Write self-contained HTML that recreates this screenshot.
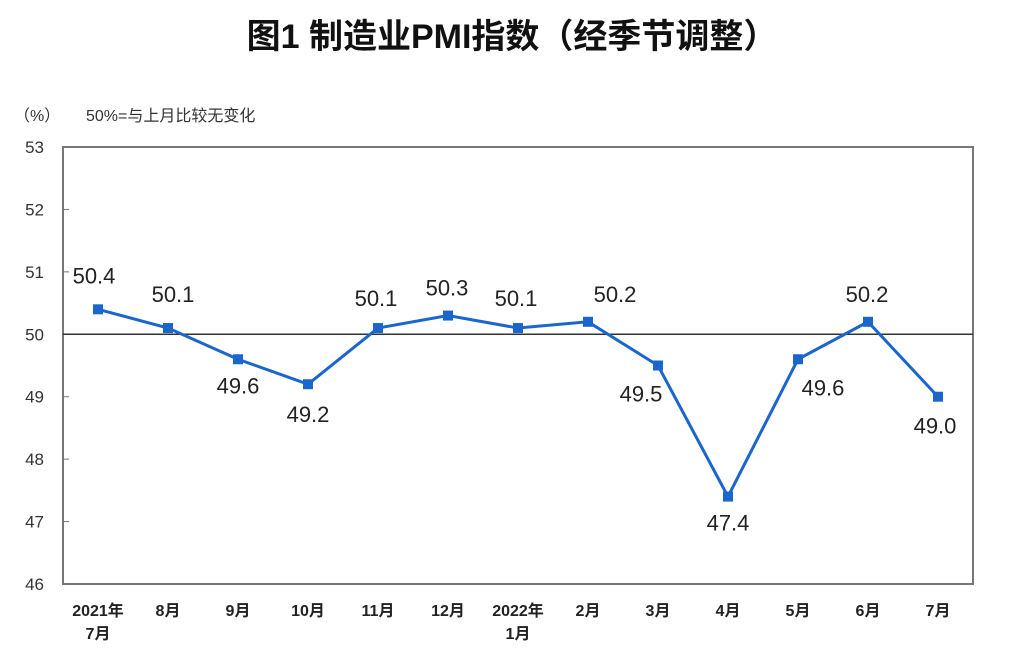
<!DOCTYPE html>
<html><head><meta charset="utf-8"><style>
body{margin:0;background:#fff;width:1024px;height:670px;overflow:hidden}
svg{display:block;font-family:"Liberation Sans","Noto Sans CJK SC",sans-serif}
</style></head><body>
<svg width="1024" height="670">
<text x="512" y="48" text-anchor="middle" font-size="34" font-weight="bold" fill="#111">图1 制造业PMI指数（经季节调整）</text>
<text x="14" y="121" font-size="16" fill="#333">（%）</text>
<text x="86" y="121" font-size="16" fill="#333">50%=与上月比较无变化</text>
<rect x="63" y="147" width="910" height="437" fill="none" stroke="#777" stroke-width="2"/>
<g id="yt"></g><g id="xt"></g><g id="ln"></g>
</svg>
<script>
const categories=[["2021年","7月"],["8月"],["9月"],["10月"],["11月"],["12月"],["2022年","1月"],["2月"],["3月"],["4月"],["5月"],["6月"],["7月"]];
const values=[50.4,50.1,49.6,49.2,50.1,50.3,50.1,50.2,49.5,47.4,49.6,50.2,49.0];
const valueLabels=["50.4","50.1","49.6","49.2","50.1","50.3","50.1","50.2","49.5","47.4","49.6","50.2","49.0"];
const yTicks=[46,47,48,49,50,51,52,53];
const labelOffsets=[[-4,-26],[5,-26],[0,34],[0,38],[-2,-22],[-1,-20],[-2,-22],[27,-20],[-17,36],[0,34],[25,36],[-1,-20],[-3,37]];
const NS="http://www.w3.org/2000/svg";
const x0=63,pw=910,plotTop=147,plotBot=584,ymin=46,ymax=53;
const xs=i=>x0+pw/categories.length*(i+0.5);
const ys=v=>plotBot-(v-ymin)/(ymax-ymin)*(plotBot-plotTop);
function mk(t,a,p){const e=document.createElementNS(NS,t);for(const k in a)e.setAttribute(k,a[k]);p.appendChild(e);return e;}
const yt=document.getElementById('yt'),xt=document.getElementById('xt'),ln=document.getElementById('ln');
yTicks.forEach(v=>{const t=mk('text',{x:44,y:ys(v)+6,'text-anchor':'end','font-size':17,fill:'#333'},yt);t.textContent=v;


const k=mk('line',{x1:x0,x2:x0+6,y1:ys(v),y2:ys(v),stroke:'#777'},yt);

});
const ref=mk('line',{x1:x0,x2:x0+pw,y1:ys(50),y2:ys(50),stroke:'#333','stroke-width':1.5},yt);


categories.forEach((c,i)=>{c.forEach((s,j)=>{const t=mk('text',{x:xs(i),y:616+j*23,'text-anchor':'middle','font-size':16,'font-weight':'bold',fill:'#222'},xt);t.textContent=s;

});});
const pl=mk('polyline',{points:values.map((v,i)=>xs(i)+','+ys(v)).join(' '),fill:'none',stroke:'#1a66cc','stroke-width':3},ln);


values.forEach((v,i)=>{const r=mk('rect',{x:xs(i)-5,y:ys(v)-5,width:10,height:10,fill:'#1a66cc'},ln);


const o=labelOffsets[i];const t=mk('text',{x:xs(i)+o[0],y:ys(v)+o[1],'text-anchor':'middle','font-size':22,fill:'#222'},ln);t.textContent=valueLabels[i];

});
</script>
</body></html>
